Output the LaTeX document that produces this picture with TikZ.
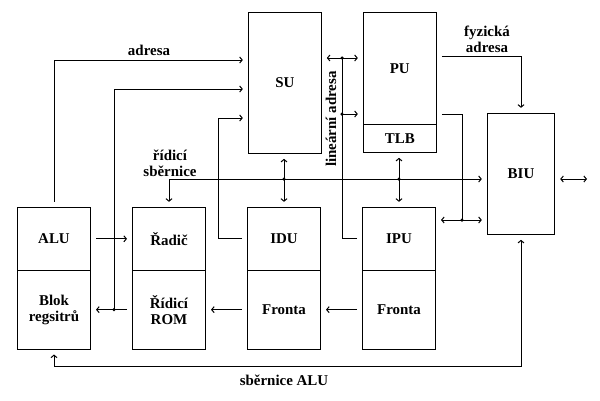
\documentclass[tikz,border=0pt]{standalone}
\usepackage{fontspec}
\setmainfont{Liberation Serif}
\usetikzlibrary{arrows.meta}
\begin{document}
\begin{tikzpicture}[x=1bp,y=-1bp,
  every node/.style={font=\fontsize{15}{16}\selectfont\bfseries},
  box/.style={draw, line width=1bp, inner sep=0pt, minimum width=73bp, align=center},
  con/.style={draw, line width=1bp},
  arr/.style={con, -{Straight Barb[length=2.5bp,width=6bp]}, shorten >=5bp},
  darr/.style={con, {Straight Barb[length=2.5bp,width=6bp]}-{Straight Barb[length=2.5bp,width=6bp]}, shorten >=5bp, shorten <=5bp},
  dot/.style={circle, fill, inner sep=0pt, minimum size=3.5bp}
]
\useasboundingbox (0,0) rectangle (600,400);
% boxes
\node[box, minimum height=141bp] (su) at (284.8,82.8) {SU};
\node[box, minimum height=112bp] (pu) at (399.8,68.3) {PU};
\node[box, minimum height=28bp] (tlb) at (399.8,138.3) {TLB};
\node[box, minimum width=67.4bp, minimum height=121bp] (biu) at (521,173.8) {BIU};
\node[box, minimum height=63bp] (alu) at (54,238.8) {ALU};
\node[box, minimum height=78.7bp] (blok) at (54,309.65) {Blok\\regsitrů};
\node[box, minimum height=63bp] (radic) at (169,238.8) {Řadič};
\node[box, minimum height=78.7bp] (rom) at (169,309.65) {Řídicí\\ROM};
\node[box, minimum height=63bp] (idu) at (284,238.8) {IDU};
\node[box, minimum height=78.7bp] (idufr) at (284,309.65) {Fronta};
\node[box, minimum height=63bp] (ipu) at (399,238.8) {IPU};
\node[box, minimum height=78.7bp] (ipufr) at (399,309.65) {Fronta};
% helper coordinates
\coordinate (yadr) at (0,60);
\coordinate (j2) at (114,309.65);
\coordinate (y2) at (0,89);
\coordinate (c3) at (218,118);
\coordinate (ybus) at (0,179);
\coordinate (c7) at (342,58);
\coordinate (c7b) at (342,114);
\coordinate (y8) at (0,56);
\coordinate (c9) at (462,114);
\coordinate (c9b) at (462,220);
\coordinate (biuout) at (587,179);
\coordinate (y11) at (0,366);
% connectors
\draw[arr, shorten <=5bp] (alu.north) |- (su.west |- yadr);
\draw[arr, shorten <=5bp] (rom.west) -- (blok.east);
\draw[arr] (j2) |- (su.west |- y2);
\draw[arr, shorten <=5bp] (idu.west) -| (c3) -- (su.west |- c3);
\draw[darr] (radic.north) |- (biu.west |- ybus);
\draw[darr] (su.south -| idu.north) -- (idu.north);
\draw[darr] (tlb.south -| ipu.north) -- (ipu.north);
\draw[con, shorten <=5bp] (ipu.west) -| (c7);
\draw[darr] (su.east |- c7) -- (pu.west |- c7);
\draw[arr] (c7b) -- (pu.west |- c7b);
\draw[arr, shorten <=5bp] (pu.east |- y8) -| (biu.north);
\draw[con, shorten <=5bp] (pu.east |- c9) -| (c9b);
\draw[darr] (ipu.east |- c9b) -- (biu.west |- c9b);
\draw[darr, shorten >=0pt] (biu.east |- ybus) -- (biuout);
\draw[darr] (biu.south) |- (blok.south |- y11) -- (blok.south);
\draw[arr, shorten <=5bp] (alu.east) -- (radic.west);
\draw[arr, shorten <=5bp] (idufr.west) -- (rom.east);
\draw[arr, shorten <=5bp] (ipufr.west) -- (idufr.east);
% junction dots
\node[dot] (d1) at (j2) {};
\node[dot] (d2) at (idu.north |- ybus) {};
\node[dot] (d3) at (ipu.north |- ybus) {};
\node[dot] (d4) at (c7) {};
\node[dot] (d5) at (c7b) {};
\node[dot] (d6) at (c9b) {};
% labels
\node (ladr) at (149,50.5) {adresa};
\node[align=center] (lbus) at (170,163) {řídicí\\sběrnice};
\node[rotate=90] (llin) at (331,119) {lineární adresa};
\node[align=center] (lfyz) at (487,39) {fyzická\\adresa};
\node (lalu) at (284,380) {sběrnice ALU};
\end{tikzpicture}
\end{document}
